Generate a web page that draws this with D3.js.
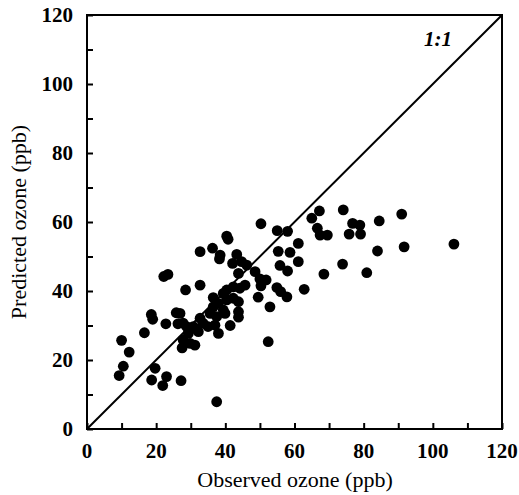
<!DOCTYPE html>
<html><head><meta charset="utf-8">
<script src="https://cdn.jsdelivr.net/npm/d3@7"></script>
<style>body{margin:0;background:#fff}svg{display:block}</style>
</head><body>
<script>
const observed = [9.3,10.5,10,12.2,16.6,18.6,19,19.7,18.7,23,21.9,27.2,22.2,23.4,22.8,25.8,26.3,27.5,28.5,27.8,29.3,29.8,31.2,
28.8,27.8,30.7,32.2,31.2,32.7,33.6,35,26.9,32.7,32.7,36.3,38.5,38.3,40.4,40.8,36.5,39.4,40.4,42.3,43.8,36.5,38,35.6,37.5,39.4,39.9,43.8,43.8,41.4,38,37,37.5,
42.3,40.4,44.2,45.7,43.3,42.1,44.7,46.2,43.8,48.6,50,51.8,50.3,49.5,52.9,52.4,50.3,55,58,55.3,58.7,55.8,58,54.9,56,57.8,61.1,61.1,62.8,65,67.2,66.6,67.4,69.5,68.5,74.1,76.8,78.9,75.8,79.1,84.5,91,84,91.7,106.1,73.9,80.9];
const predicted = [15.5,18.2,25.7,22.3,27.9,33.2,31.8,17.6,14.2,15.2,12.6,14,44.2,44.8,30.5,33.7,30.5,23.5,40.3,25.8,27.7,24.8,24.3,
29.7,30.7,29.7,28.2,29.2,32.1,30.6,29.7,33.5,41.7,51.4,52.4,50.4,49.3,55.9,55,38.1,39.3,37.4,37.9,36.9,35.4,36.4,33.5,32.6,34.5,33.5,34,32.4,30,27.7,30.1,7.9,
41.2,40.3,40.8,41.7,50.6,48,48.5,47.5,45.1,45.6,43.5,43.2,41.5,38.2,35.4,25.3,59.5,57.5,57.3,51.5,51.2,47.4,45.8,41,39.8,38.3,53.8,48.5,40.5,61.1,63.2,58.2,56.2,56.2,44.9,63.5,59.6,59.1,56.5,56.5,60.3,62.3,51.6,52.8,53.6,47.8,45.3];
const tickValues = [0,20,40,60,80,100,120];
const minorTicks = d3.range(0,121,10);
const xTitle = "Observed ozone (ppb)";
const yTitle = "Predicted ozone (ppb)";
const lineLabel = "1:1";

const W=519,H=495;
const L=87,R=502,T=15,B=429;
const svg=d3.select("body").append("svg").attr("width",W).attr("height",H);
const x=d3.scaleLinear().domain([0,120]).range([L,R]);
const y=d3.scaleLinear().domain([0,120]).range([B,T]);
const serif='"Liberation Serif","DejaVu Serif",serif';

svg.append("defs").append("clipPath").attr("id","c").append("rect")
  .attr("x",L).attr("y",T).attr("width",R-L).attr("height",B-T);

// 1:1 line
svg.append("line").attr("clip-path","url(#c)")
  .attr("x1",x(0)).attr("y1",y(0)).attr("x2",x(120)).attr("y2",y(120))
  .attr("stroke","#000").attr("stroke-width",2);

// points
svg.append("g").selectAll("circle").data(observed.map((d,i)=>[d,predicted[i]]))
  .join("circle").attr("cx",d=>x(d[0])).attr("cy",d=>y(d[1])).attr("r",5.4).attr("fill","#000");

// frame
svg.append("rect").attr("x",L).attr("y",T).attr("width",R-L).attr("height",B-T)
  .attr("fill","none").attr("stroke","#000").attr("stroke-width",2);

// axes with inward ticks
const xa=svg.append("g").attr("transform",`translate(0,${B})`)
  .call(d3.axisBottom(x).tickValues(minorTicks).tickSize(-6).tickFormat(""));
const ya=svg.append("g").attr("transform",`translate(${L},0)`)
  .call(d3.axisLeft(y).tickValues(minorTicks).tickSize(-6).tickFormat(""));
[xa,ya].forEach(a=>{a.select(".domain").remove();a.selectAll("line").attr("stroke","#000").attr("stroke-width",2);});

// tick labels
svg.append("g").selectAll("text").data(tickValues).join("text")
  .attr("x",d=>x(d)).attr("y",B+29).attr("text-anchor","middle")
  .attr("font-family",serif).attr("font-weight","bold").attr("font-size",21).text(d=>d);
svg.append("g").selectAll("text").data(tickValues).join("text")
  .attr("x",L-14).attr("y",d=>y(d)+7).attr("text-anchor","end")
  .attr("font-family",serif).attr("font-weight","bold").attr("font-size",21).text(d=>d);

// titles
svg.append("text").attr("x",295).attr("y",487).attr("text-anchor","middle")
  .attr("font-family",serif).attr("font-size",22).text(xTitle);
svg.append("text").attr("transform",`translate(26,${(T+B)/2}) rotate(-90)`).attr("text-anchor","middle")
  .attr("font-family",serif).attr("font-size",22).text(yTitle);

svg.append("text").attr("x",438).attr("y",46).attr("text-anchor","middle")
  .attr("font-family",serif).attr("font-style","italic").attr("font-weight","bold").attr("font-size",21).text(lineLabel);
</script>
</body></html>
